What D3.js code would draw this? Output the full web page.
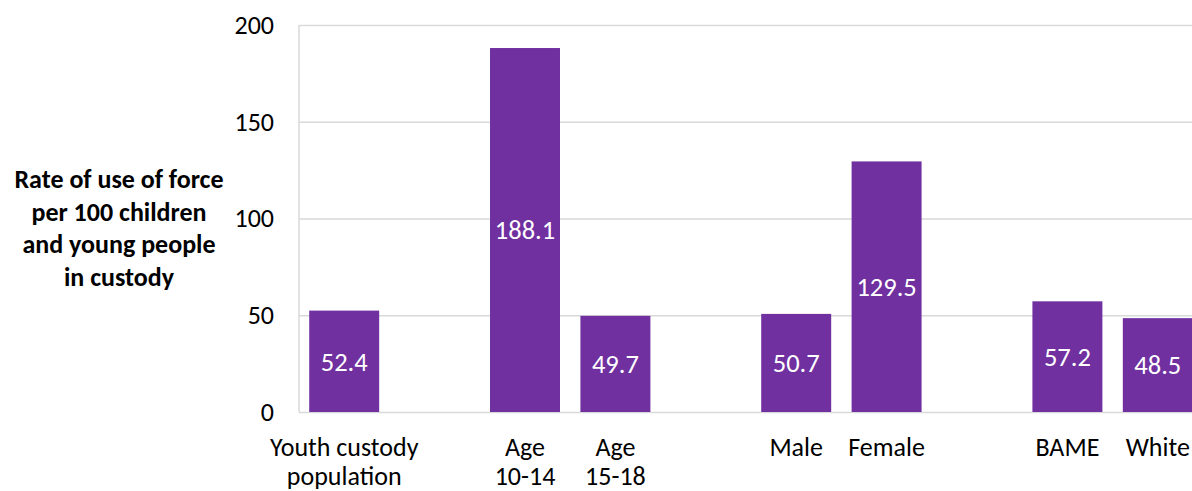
<!DOCTYPE html>
<html>
<head>
<meta charset="utf-8">
<script src="https://cdn.jsdelivr.net/npm/d3@7"></script>
<style>
  html, body { margin: 0; padding: 0; background: #fff; overflow: hidden; }
  svg { display: block; font-family: Carlito, Lato, "Open Sans", sans-serif; }
</style>
</head>
<body>
<svg id="chart" width="1192" height="491"></svg>
<script>
// ---- data ----
const categories = ["Youth custody|population", "Age|10-14", "Age|15-18", "Male", "Female", "BAME", "White"];
const groups = [0, 1, 1, 2, 2, 3, 3];
const values = [52.4, 188.1, 49.7, 50.7, 129.5, 57.2, 48.5];
const yTicks = [0, 50, 100, 150, 200];
const yTitle = ["Rate of use of force", "per 100 children", "and young people", "in custody"];

(function () {
// ---- layout ----
const svg = d3.select("#chart");
const mLeft = 299, mRight = 1203, mTop = 25, mBottom = 412;

// build slot domain: gap slot between groups
const slots = [];
categories.forEach((c, i) => {
  if (i > 0 && groups[i] !== groups[i - 1]) slots.push("gap" + i);
  slots.push("cat" + i);
});

const x = d3.scaleBand().domain(slots).range([mLeft, mRight]).paddingInner(0.226).paddingOuter(0.113);
const y = d3.scaleLinear().domain([0, 200]).range([mBottom, mTop]);

// gridlines
const grid = svg.append("g").attr("transform", `translate(${mLeft},0)`)
  .call(d3.axisLeft(y).tickValues(yTicks).tickSize(-(mRight - mLeft)).tickFormat(""));
grid.selectAll("line").attr("stroke", "#D9D9D9").attr("stroke-width", 1.5);
grid.select(".domain").remove();

// left axis line
svg.append("line").attr("x1", mLeft).attr("x2", mLeft).attr("y1", y(200)).attr("y2", y(0))
  .attr("stroke", "#D9D9D9").attr("stroke-width", 1.5);

// y tick labels
const yAxis = svg.append("g").attr("transform", `translate(${mLeft},0)`)
  .call(d3.axisLeft(y).tickValues(yTicks).tickSize(0).tickPadding(25));
yAxis.select(".domain").remove();
yAxis.selectAll("text").attr("font-size", 26).attr("fill", "#000").attr("font-family", "Carlito, Lato, sans-serif");

// bars
const bars = svg.append("g");
bars.selectAll("rect").data(values).join("rect")
  .attr("x", (d, i) => x("cat" + i))
  .attr("width", x.bandwidth())
  .attr("y", d => y(d))
  .attr("height", d => y(0) - y(d))
  .attr("fill", "#7030A0");

// value labels (centered in bar)
bars.selectAll("text").data(values).join("text")
  .attr("x", (d, i) => x("cat" + i) + x.bandwidth() / 2)
  .attr("y", d => (y(d) + y(0)) / 2)
  .attr("dy", "0.35em")
  .attr("text-anchor", "middle")
  .attr("font-size", 26.5)
  .attr("fill", "#fff")
  .text(d => d.toFixed(1));

// category labels
const catG = svg.append("g");
categories.forEach((c, i) => {
  const cx = x("cat" + i) + x.bandwidth() / 2;
  const t = catG.append("text")
    .attr("x", cx)
    .attr("y", 456)
    .attr("text-anchor", "middle")
    .attr("font-size", 26)
    .attr("fill", "#000");
  c.split("|").forEach((line, j) => {
    t.append("tspan").attr("x", cx).attr("dy", j === 0 ? 0 : 29).text(line);
  });
});

// y axis title
const tt = svg.append("text")
  .attr("x", 119).attr("y", 188)
  .attr("text-anchor", "middle")
  .attr("font-size", 26)
  .attr("font-weight", "bold")
  .attr("fill", "#000");
yTitle.forEach((line, j) => {
  tt.append("tspan").attr("x", 119).attr("dy", j === 0 ? 0 : 32.5).text(line);
});
})();
</script>
</body>
</html>
